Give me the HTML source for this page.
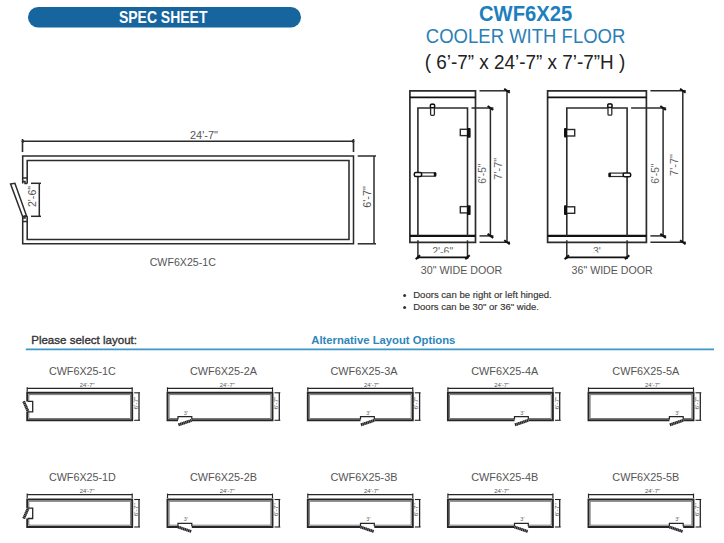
<!DOCTYPE html>
<html><head><meta charset="utf-8"><style>
html,body{margin:0;padding:0;background:#fff;width:724px;height:543px;overflow:hidden;position:relative}
svg text{font-family:"Liberation Sans", sans-serif}
</style></head><body>
<svg width="724" height="543" viewBox="0 0 724 543" style="position:absolute;left:0;top:0">
<rect x="28" y="7" width="273" height="20.5" rx="10.25" fill="#16659f"/>
<text x="163.2" y="22.9" font-size="16.2" fill="#ffffff" text-anchor="middle" font-weight="bold" textLength="88.5" lengthAdjust="spacingAndGlyphs" >SPEC SHEET</text>
<text x="525.6" y="20.8" font-size="22.4" fill="#1e7fbd" text-anchor="middle" font-weight="bold" textLength="93.2" lengthAdjust="spacingAndGlyphs" >CWF6X25</text>
<text x="525.6" y="42.9" font-size="20.1" fill="#2a7fb7" text-anchor="middle" font-weight="normal" textLength="199.5" lengthAdjust="spacingAndGlyphs" >COOLER WITH FLOOR</text>
<text x="525" y="69.1" font-size="19.8" fill="#222" text-anchor="middle" font-weight="normal" textLength="200.5" lengthAdjust="spacingAndGlyphs" >( 6’-7” x 24’-7” x 7’-7”H )</text>
<line x1="22.5" y1="141.3" x2="353.5" y2="141.3" stroke="#2b2b2b" stroke-width="1.6"/>
<line x1="22.5" y1="139" x2="22.5" y2="152" stroke="#2b2b2b" stroke-width="1.6"/>
<line x1="353.5" y1="139" x2="353.5" y2="152" stroke="#2b2b2b" stroke-width="1.6"/>
<circle cx="23" cy="141.3" r="1.4" fill="#2b2b2b"/><circle cx="353" cy="141.3" r="1.4" fill="#2b2b2b"/>
<text x="204" y="138.7" font-size="10.5" fill="#555" text-anchor="middle" font-weight="normal" textLength="28" lengthAdjust="spacingAndGlyphs" >24'-7"</text>
<path d="M22.7,183.5 V156 H353.5 V243.8 H22.7 V216.3" stroke="#2b2b2b" stroke-width="1.55" fill="none" />
<path d="M27.2,183.5 V160.5 H349 V239.4 H27.2 V216.3" stroke="#2b2b2b" stroke-width="1.55" fill="none" />
<path d="M22.7,178.1 H27.2 M22.7,181.5 H25 V183.5 H27.2" stroke="#2b2b2b" stroke-width="1.5" fill="none" />
<path d="M22.7,221.5 H27.2 M22.7,218 H25 V216.3 H27.2" stroke="#2b2b2b" stroke-width="1.5" fill="none" />
<path d="M10.6,184 L14.9,183.3 L26.5,215.8 L22.6,216.5 Z" stroke="#2b2b2b" stroke-width="1.5" fill="none" />
<line x1="31" y1="183.3" x2="41" y2="183.3" stroke="#2b2b2b" stroke-width="1.5"/>
<line x1="31" y1="216.3" x2="41" y2="216.3" stroke="#2b2b2b" stroke-width="1.5"/>
<line x1="39.3" y1="183.3" x2="39.3" y2="216.3" stroke="#2b2b2b" stroke-width="1.5"/>
<text x="0" y="0" font-size="10.5" fill="#555" text-anchor="middle" font-weight="normal" textLength="21" lengthAdjust="spacingAndGlyphs" transform="translate(32.6,196.5) rotate(-90)" dy="3.7">2'-6"</text>
<line x1="357.7" y1="156" x2="376" y2="156" stroke="#2b2b2b" stroke-width="1.5"/>
<line x1="357.7" y1="243.8" x2="376" y2="243.8" stroke="#2b2b2b" stroke-width="1.5"/>
<line x1="374" y1="156" x2="374" y2="243.8" stroke="#2b2b2b" stroke-width="1.5"/>
<text x="0" y="0" font-size="10.5" fill="#555" text-anchor="middle" font-weight="normal" textLength="21.7" lengthAdjust="spacingAndGlyphs" transform="translate(367,197) rotate(-90)" dy="3.7">6'-7"</text>
<text x="182.8" y="266.2" font-size="10.7" fill="#555" text-anchor="middle" font-weight="normal" textLength="66.2" lengthAdjust="spacingAndGlyphs" >CWF6X25-1C</text>
<path d="M409.9,242.3 V90.8 H475.5 V242.3 Z" stroke="#2b2b2b" stroke-width="1.7" fill="none" />
<line x1="409.9" y1="97.3" x2="475.5" y2="97.3" stroke="#111" stroke-width="1.7"/>
<line x1="409.9" y1="235.9" x2="475.5" y2="235.9" stroke="#111" stroke-width="2.4"/>
<path d="M417.9,235.9 V108 H467.5 V235.9" stroke="#2b2b2b" stroke-width="1.6" fill="none" />
<line x1="471.5" y1="108" x2="493.4" y2="108" stroke="#2b2b2b" stroke-width="1.5"/>
<line x1="479.5" y1="235.9" x2="493.4" y2="235.9" stroke="#2b2b2b" stroke-width="1.5"/>
<line x1="479.5" y1="90.8" x2="510" y2="90.8" stroke="#2b2b2b" stroke-width="1.5"/>
<line x1="479.5" y1="242.3" x2="510" y2="242.3" stroke="#2b2b2b" stroke-width="1.5"/>
<line x1="490.4" y1="108" x2="490.4" y2="235.9" stroke="#2b2b2b" stroke-width="1.5"/>
<line x1="507" y1="90.8" x2="507" y2="242.3" stroke="#2b2b2b" stroke-width="1.5"/>
<path d="M487.59999999999997,106 L493.2,110" stroke="#111" stroke-width="2" fill="none" />
<path d="M487.59999999999997,233.9 L493.2,237.9" stroke="#111" stroke-width="2" fill="none" />
<path d="M504.2,88.8 L509.8,92.8" stroke="#111" stroke-width="2" fill="none" />
<path d="M504.2,240.3 L509.8,244.3" stroke="#111" stroke-width="2" fill="none" />
<line x1="417.9" y1="240.3" x2="417.9" y2="259" stroke="#2b2b2b" stroke-width="1.5"/>
<line x1="467.5" y1="240.3" x2="467.5" y2="259" stroke="#2b2b2b" stroke-width="1.5"/>
<line x1="416.9" y1="257.3" x2="468.5" y2="257.3" stroke="#111" stroke-width="1.7"/>
<path d="M415.7,259.3 L420.09999999999997,255.3" stroke="#111" stroke-width="2" fill="none" />
<path d="M465.3,259.3 L469.7,255.3" stroke="#111" stroke-width="2" fill="none" />
<clipPath id="cp417"><rect x="417.9" y="240" width="49.60000000000002" height="12.8"/></clipPath>
<text x="442.7" y="254.8" font-size="10.5" fill="#666" text-anchor="middle" font-weight="normal" clip-path="url(#cp417)">2'-6"</text>
<text x="0" y="0" font-size="11" fill="#666" text-anchor="middle" font-weight="normal" textLength="20.2" lengthAdjust="spacingAndGlyphs" transform="translate(482.2,173.7) rotate(-90)" dy="3.9">6'-5"</text>
<text x="0" y="0" font-size="11" fill="#666" text-anchor="middle" font-weight="normal" textLength="21.8" lengthAdjust="spacingAndGlyphs" transform="translate(498.5,168.8) rotate(-90)" dy="3.9">7'-7"</text>
<text x="461.55" y="274" font-size="10" fill="#555" text-anchor="middle" font-weight="normal" textLength="81.5" lengthAdjust="spacingAndGlyphs" >30" WIDE DOOR</text>
<rect x="460.3" y="129.3" width="7.2" height="6.3" fill="#fff" stroke="#2b2b2b" stroke-width="1.4"/>
<rect x="467" y="128" width="3.6" height="9.8" rx="1" fill="#111"/>
<rect x="460.3" y="206.60000000000002" width="7.2" height="6.3" fill="#fff" stroke="#2b2b2b" stroke-width="1.4"/>
<rect x="467" y="205.3" width="3.6" height="9.8" rx="1" fill="#111"/>
<path d="M547.6,242.3 V90.8 H646.4 V242.3 Z" stroke="#2b2b2b" stroke-width="1.7" fill="none" />
<line x1="547.6" y1="97.3" x2="646.4" y2="97.3" stroke="#111" stroke-width="1.7"/>
<line x1="547.6" y1="235.9" x2="646.4" y2="235.9" stroke="#111" stroke-width="2.4"/>
<path d="M566.8,235.9 V108 H627.1 V235.9" stroke="#2b2b2b" stroke-width="1.6" fill="none" />
<line x1="631.1" y1="108" x2="666.1" y2="108" stroke="#2b2b2b" stroke-width="1.5"/>
<line x1="650.4" y1="235.9" x2="666.1" y2="235.9" stroke="#2b2b2b" stroke-width="1.5"/>
<line x1="650.4" y1="90.8" x2="685.8" y2="90.8" stroke="#2b2b2b" stroke-width="1.5"/>
<line x1="650.4" y1="242.3" x2="685.8" y2="242.3" stroke="#2b2b2b" stroke-width="1.5"/>
<line x1="663.1" y1="108" x2="663.1" y2="235.9" stroke="#2b2b2b" stroke-width="1.5"/>
<line x1="682.8" y1="90.8" x2="682.8" y2="242.3" stroke="#2b2b2b" stroke-width="1.5"/>
<path d="M660.3000000000001,106 L665.9,110" stroke="#111" stroke-width="2" fill="none" />
<path d="M660.3000000000001,233.9 L665.9,237.9" stroke="#111" stroke-width="2" fill="none" />
<path d="M680.0,88.8 L685.5999999999999,92.8" stroke="#111" stroke-width="2" fill="none" />
<path d="M680.0,240.3 L685.5999999999999,244.3" stroke="#111" stroke-width="2" fill="none" />
<line x1="566.8" y1="240.3" x2="566.8" y2="259" stroke="#2b2b2b" stroke-width="1.5"/>
<line x1="627.1" y1="240.3" x2="627.1" y2="259" stroke="#2b2b2b" stroke-width="1.5"/>
<line x1="565.8" y1="257.3" x2="628.1" y2="257.3" stroke="#111" stroke-width="1.7"/>
<path d="M564.5999999999999,259.3 L569.0,255.3" stroke="#111" stroke-width="2" fill="none" />
<path d="M624.9,259.3 L629.3000000000001,255.3" stroke="#111" stroke-width="2" fill="none" />
<clipPath id="cp566"><rect x="566.8" y="240" width="60.30000000000007" height="12.8"/></clipPath>
<text x="596.95" y="254.8" font-size="10.5" fill="#666" text-anchor="middle" font-weight="normal" clip-path="url(#cp566)">3'</text>
<text x="0" y="0" font-size="11" fill="#666" text-anchor="middle" font-weight="normal" textLength="20.2" lengthAdjust="spacingAndGlyphs" transform="translate(654.9,173.7) rotate(-90)" dy="3.9">6'-5"</text>
<text x="0" y="0" font-size="11" fill="#666" text-anchor="middle" font-weight="normal" textLength="21.8" lengthAdjust="spacingAndGlyphs" transform="translate(674.3,165) rotate(-90)" dy="3.9">7'-7"</text>
<text x="612.1500000000001" y="274" font-size="10" fill="#555" text-anchor="middle" font-weight="normal" textLength="81.10000000000002" lengthAdjust="spacingAndGlyphs" >36" WIDE DOOR</text>
<rect x="566.7" y="129.5" width="8" height="6.5" fill="#fff" stroke="#2b2b2b" stroke-width="1.4"/>
<rect x="564" y="128" width="3" height="9.6" rx="1" fill="#111"/>
<rect x="566.7" y="206.8" width="8" height="6.5" fill="#fff" stroke="#2b2b2b" stroke-width="1.4"/>
<rect x="564" y="205.3" width="3" height="9.6" rx="1" fill="#111"/>
<rect x="430.6" y="104.3" width="3.8" height="11" rx="1" fill="#fff" stroke="#2b2b2b" stroke-width="1.3"/>
<rect x="430.4" y="104.2" width="4.2" height="3.6" rx="1" fill="#fff" stroke="#111" stroke-width="1.5"/>
<rect x="608" y="104.2" width="3.8" height="11" rx="1" fill="#fff" stroke="#2b2b2b" stroke-width="1.3"/>
<rect x="607.8" y="104" width="4.2" height="3.6" rx="1" fill="#fff" stroke="#111" stroke-width="1.5"/>
<rect x="421.5" y="172.8" width="13.5" height="3.4" fill="#fff" stroke="#2b2b2b" stroke-width="1.2"/>
<rect x="414.3" y="172.4" width="7.3" height="4" rx="1.5" fill="#fff" stroke="#111" stroke-width="1.5"/>
<rect x="433.8" y="172.2" width="2.6" height="4.4" rx="1" fill="#111"/>
<rect x="610" y="173.1" width="13.5" height="3.4" fill="#fff" stroke="#2b2b2b" stroke-width="1.2"/>
<rect x="623.2" y="172.9" width="7.5" height="3.8" rx="1.5" fill="#fff" stroke="#111" stroke-width="1.5"/>
<rect x="608.3" y="172.8" width="2.6" height="4.4" rx="1" fill="#111"/>
<circle cx="404.6" cy="295.6" r="1.5" fill="#333"/>
<text x="413.2" y="298.2" font-size="9.5" fill="#333" text-anchor="start" font-weight="normal" textLength="138.6" lengthAdjust="spacingAndGlyphs" stroke="#333" stroke-width="0.15">Doors can be right or left hinged.</text>
<circle cx="404.6" cy="307.4" r="1.5" fill="#333"/>
<text x="413.2" y="310" font-size="9.5" fill="#333" text-anchor="start" font-weight="normal" textLength="125.8" lengthAdjust="spacingAndGlyphs" stroke="#333" stroke-width="0.15">Doors can be 30" or 36" wide.</text>
<text x="31.2" y="344" font-size="11.7" fill="#333" text-anchor="start" font-weight="normal" textLength="105.8" lengthAdjust="spacingAndGlyphs" stroke="#333" stroke-width="0.35">Please select layout:</text>
<text x="311.3" y="343.8" font-size="11.7" fill="#2e86bb" text-anchor="start" font-weight="bold" textLength="144" lengthAdjust="spacingAndGlyphs" >Alternative Layout Options</text>
<line x1="25.8" y1="349.3" x2="714" y2="349.3" stroke="#3f97c9" stroke-width="1.8"/>
<text x="82.4" y="374.9" font-size="10.3" fill="#555" text-anchor="middle" font-weight="normal" textLength="67" lengthAdjust="spacingAndGlyphs" >CWF6X25-1C</text>
<line x1="27.2" y1="388.3" x2="132.2" y2="388.3" stroke="#262626" stroke-width="1.3"/>
<line x1="27.2" y1="387.3" x2="27.2" y2="391.8" stroke="#262626" stroke-width="1.2"/>
<line x1="132.2" y1="387.3" x2="132.2" y2="391.8" stroke="#262626" stroke-width="1.2"/>
<text x="87.2" y="387.0" font-size="6" fill="#555" text-anchor="middle" font-weight="normal" textLength="15" lengthAdjust="spacingAndGlyphs" >24'-7"</text>
<line x1="134.2" y1="392.8" x2="140.0" y2="392.8" stroke="#262626" stroke-width="1.1"/>
<line x1="134.2" y1="420.3" x2="140.0" y2="420.3" stroke="#262626" stroke-width="1.1"/>
<line x1="139.0" y1="392.8" x2="139.0" y2="420.3" stroke="#262626" stroke-width="1.3"/>
<text x="0" y="0" font-size="6" fill="#555" text-anchor="middle" font-weight="normal" textLength="13" lengthAdjust="spacingAndGlyphs" transform="translate(135.79999999999998,403.1) rotate(-90)" dy="2">6'-7"</text>
<path d="M27.2,401.40000000000003 V392.8 H132.2 V420.3 H27.2 V411.8" stroke="#262626" stroke-width="1.9" fill="none" />
<path d="M28.8,401.40000000000003 V394.6 H130.6 V418.5 H28.8 V411.8" stroke="#555" stroke-width="0.8" fill="none" />
<path d="M27.7,401.40000000000003 H32.7 V411.8 H27.7" stroke="#262626" stroke-width="1.3" fill="none" />
<path d="M23.7,401.40000000000003 L28.2,411.8" stroke="#8a8a8a" stroke-width="2.8" fill="none"/>
<path d="M23.7,401.40000000000003 L28.2,411.8" stroke="#1e1e1e" stroke-width="2.8" fill="none" stroke-dasharray="1.1 0.7"/>
<text x="223.5" y="374.9" font-size="10.3" fill="#555" text-anchor="middle" font-weight="normal" textLength="67" lengthAdjust="spacingAndGlyphs" >CWF6X25-2A</text>
<line x1="167.5" y1="388.3" x2="272.5" y2="388.3" stroke="#262626" stroke-width="1.3"/>
<line x1="167.5" y1="387.3" x2="167.5" y2="391.8" stroke="#262626" stroke-width="1.2"/>
<line x1="272.5" y1="387.3" x2="272.5" y2="391.8" stroke="#262626" stroke-width="1.2"/>
<text x="227.3" y="387.0" font-size="6" fill="#555" text-anchor="middle" font-weight="normal" textLength="15" lengthAdjust="spacingAndGlyphs" >24'-7"</text>
<line x1="274.5" y1="392.8" x2="280.3" y2="392.8" stroke="#262626" stroke-width="1.1"/>
<line x1="274.5" y1="420.3" x2="280.3" y2="420.3" stroke="#262626" stroke-width="1.1"/>
<line x1="279.3" y1="392.8" x2="279.3" y2="420.3" stroke="#262626" stroke-width="1.3"/>
<text x="0" y="0" font-size="6" fill="#555" text-anchor="middle" font-weight="normal" textLength="13" lengthAdjust="spacingAndGlyphs" transform="translate(276.1,403.1) rotate(-90)" dy="2">6'-7"</text>
<path d="M178.0,420.3 H167.5 V392.8 H272.5 V420.3 H191.8" stroke="#262626" stroke-width="1.9" fill="none" />
<path d="M178.0,418.5 H169.1 V394.6 H270.9 V418.5 H191.8" stroke="#555" stroke-width="0.8" fill="none" />
<path d="M178.0,419.5 V416.7 H191.8 V419.5" stroke="#262626" stroke-width="1.2" fill="none" />
<text x="185.9" y="414.7" font-size="5.5" fill="#666" text-anchor="middle" font-weight="normal" >3'</text>
<path d="M178.5,424.8 L191.8,420.3" stroke="#8a8a8a" stroke-width="2.8" fill="none"/>
<path d="M178.5,424.8 L191.8,420.3" stroke="#1e1e1e" stroke-width="2.8" fill="none" stroke-dasharray="1.1 0.7"/>
<text x="364.0" y="374.9" font-size="10.3" fill="#555" text-anchor="middle" font-weight="normal" textLength="67" lengthAdjust="spacingAndGlyphs" >CWF6X25-3A</text>
<line x1="307.8" y1="388.3" x2="412.8" y2="388.3" stroke="#262626" stroke-width="1.3"/>
<line x1="307.8" y1="387.3" x2="307.8" y2="391.8" stroke="#262626" stroke-width="1.2"/>
<line x1="412.8" y1="387.3" x2="412.8" y2="391.8" stroke="#262626" stroke-width="1.2"/>
<text x="371.5" y="387.0" font-size="6" fill="#555" text-anchor="middle" font-weight="normal" textLength="15" lengthAdjust="spacingAndGlyphs" >24'-7"</text>
<line x1="414.8" y1="392.8" x2="420.6" y2="392.8" stroke="#262626" stroke-width="1.1"/>
<line x1="414.8" y1="420.3" x2="420.6" y2="420.3" stroke="#262626" stroke-width="1.1"/>
<line x1="419.6" y1="392.8" x2="419.6" y2="420.3" stroke="#262626" stroke-width="1.3"/>
<text x="0" y="0" font-size="6" fill="#555" text-anchor="middle" font-weight="normal" textLength="13" lengthAdjust="spacingAndGlyphs" transform="translate(416.4,403.1) rotate(-90)" dy="2">6'-7"</text>
<path d="M360.5,420.3 H307.8 V392.8 H412.8 V420.3 H374.3" stroke="#262626" stroke-width="1.9" fill="none" />
<path d="M360.5,418.5 H309.40000000000003 V394.6 H411.2 V418.5 H374.3" stroke="#555" stroke-width="0.8" fill="none" />
<path d="M360.5,419.5 V416.7 H374.3 V419.5" stroke="#262626" stroke-width="1.2" fill="none" />
<text x="368.4" y="414.7" font-size="5.5" fill="#666" text-anchor="middle" font-weight="normal" >3'</text>
<path d="M361.0,424.8 L374.3,420.3" stroke="#8a8a8a" stroke-width="2.8" fill="none"/>
<path d="M361.0,424.8 L374.3,420.3" stroke="#1e1e1e" stroke-width="2.8" fill="none" stroke-dasharray="1.1 0.7"/>
<text x="504.7" y="374.9" font-size="10.3" fill="#555" text-anchor="middle" font-weight="normal" textLength="67" lengthAdjust="spacingAndGlyphs" >CWF6X25-4A</text>
<line x1="447.9" y1="388.3" x2="552.9" y2="388.3" stroke="#262626" stroke-width="1.3"/>
<line x1="447.9" y1="387.3" x2="447.9" y2="391.8" stroke="#262626" stroke-width="1.2"/>
<line x1="552.9" y1="387.3" x2="552.9" y2="391.8" stroke="#262626" stroke-width="1.2"/>
<text x="501.7" y="387.0" font-size="6" fill="#555" text-anchor="middle" font-weight="normal" textLength="15" lengthAdjust="spacingAndGlyphs" >24'-7"</text>
<line x1="554.9" y1="392.8" x2="560.6999999999999" y2="392.8" stroke="#262626" stroke-width="1.1"/>
<line x1="554.9" y1="420.3" x2="560.6999999999999" y2="420.3" stroke="#262626" stroke-width="1.1"/>
<line x1="559.6999999999999" y1="392.8" x2="559.6999999999999" y2="420.3" stroke="#262626" stroke-width="1.3"/>
<text x="0" y="0" font-size="6" fill="#555" text-anchor="middle" font-weight="normal" textLength="13" lengthAdjust="spacingAndGlyphs" transform="translate(556.5,403.1) rotate(-90)" dy="2">6'-7"</text>
<path d="M514.5,420.3 H447.9 V392.8 H552.9 V420.3 H528.3" stroke="#262626" stroke-width="1.9" fill="none" />
<path d="M514.5,418.5 H449.5 V394.6 H551.3 V418.5 H528.3" stroke="#555" stroke-width="0.8" fill="none" />
<path d="M514.5,419.5 V416.7 H528.3 V419.5" stroke="#262626" stroke-width="1.2" fill="none" />
<text x="522.4" y="414.7" font-size="5.5" fill="#666" text-anchor="middle" font-weight="normal" >3'</text>
<path d="M515.0,424.8 L528.3,420.3" stroke="#8a8a8a" stroke-width="2.8" fill="none"/>
<path d="M515.0,424.8 L528.3,420.3" stroke="#1e1e1e" stroke-width="2.8" fill="none" stroke-dasharray="1.1 0.7"/>
<text x="645.8" y="374.9" font-size="10.3" fill="#555" text-anchor="middle" font-weight="normal" textLength="67" lengthAdjust="spacingAndGlyphs" >CWF6X25-5A</text>
<line x1="588.5" y1="388.3" x2="693.5" y2="388.3" stroke="#262626" stroke-width="1.3"/>
<line x1="588.5" y1="387.3" x2="588.5" y2="391.8" stroke="#262626" stroke-width="1.2"/>
<line x1="693.5" y1="387.3" x2="693.5" y2="391.8" stroke="#262626" stroke-width="1.2"/>
<text x="652.5" y="387.0" font-size="6" fill="#555" text-anchor="middle" font-weight="normal" textLength="15" lengthAdjust="spacingAndGlyphs" >24'-7"</text>
<line x1="695.5" y1="392.8" x2="701.3" y2="392.8" stroke="#262626" stroke-width="1.1"/>
<line x1="695.5" y1="420.3" x2="701.3" y2="420.3" stroke="#262626" stroke-width="1.1"/>
<line x1="700.3" y1="392.8" x2="700.3" y2="420.3" stroke="#262626" stroke-width="1.3"/>
<text x="0" y="0" font-size="6" fill="#555" text-anchor="middle" font-weight="normal" textLength="13" lengthAdjust="spacingAndGlyphs" transform="translate(697.1,403.1) rotate(-90)" dy="2">6'-7"</text>
<path d="M669.4,420.3 H588.5 V392.8 H693.5 V420.3 H683.1999999999999" stroke="#262626" stroke-width="1.9" fill="none" />
<path d="M669.4,418.5 H590.1 V394.6 H691.9 V418.5 H683.1999999999999" stroke="#555" stroke-width="0.8" fill="none" />
<path d="M669.4,419.5 V416.7 H683.1999999999999 V419.5" stroke="#262626" stroke-width="1.2" fill="none" />
<text x="677.3" y="414.7" font-size="5.5" fill="#666" text-anchor="middle" font-weight="normal" >3'</text>
<path d="M669.9,424.8 L683.1999999999999,420.3" stroke="#8a8a8a" stroke-width="2.8" fill="none"/>
<path d="M669.9,424.8 L683.1999999999999,420.3" stroke="#1e1e1e" stroke-width="2.8" fill="none" stroke-dasharray="1.1 0.7"/>
<text x="82.4" y="481.0" font-size="10.3" fill="#555" text-anchor="middle" font-weight="normal" textLength="67" lengthAdjust="spacingAndGlyphs" >CWF6X25-1D</text>
<line x1="27.2" y1="494.6" x2="132.2" y2="494.6" stroke="#262626" stroke-width="1.3"/>
<line x1="27.2" y1="493.6" x2="27.2" y2="498.1" stroke="#262626" stroke-width="1.2"/>
<line x1="132.2" y1="493.6" x2="132.2" y2="498.1" stroke="#262626" stroke-width="1.2"/>
<text x="87.2" y="493.3" font-size="6" fill="#555" text-anchor="middle" font-weight="normal" textLength="15" lengthAdjust="spacingAndGlyphs" >24'-7"</text>
<line x1="134.2" y1="499.5" x2="140.0" y2="499.5" stroke="#262626" stroke-width="1.1"/>
<line x1="134.2" y1="527.0" x2="140.0" y2="527.0" stroke="#262626" stroke-width="1.1"/>
<line x1="139.0" y1="499.5" x2="139.0" y2="527.0" stroke="#262626" stroke-width="1.3"/>
<text x="0" y="0" font-size="6" fill="#555" text-anchor="middle" font-weight="normal" textLength="13" lengthAdjust="spacingAndGlyphs" transform="translate(135.79999999999998,509.8) rotate(-90)" dy="2">6'-7"</text>
<path d="M27.2,508.1 V499.5 H132.2 V527.0 H27.2 V518.5" stroke="#262626" stroke-width="1.9" fill="none" />
<path d="M28.8,508.1 V501.3 H130.6 V525.2 H28.8 V518.5" stroke="#555" stroke-width="0.8" fill="none" />
<path d="M27.7,508.1 H32.7 V518.5 H27.7" stroke="#262626" stroke-width="1.3" fill="none" />
<path d="M23.7,518.5 L28.2,508.1" stroke="#8a8a8a" stroke-width="2.8" fill="none"/>
<path d="M23.7,518.5 L28.2,508.1" stroke="#1e1e1e" stroke-width="2.8" fill="none" stroke-dasharray="1.1 0.7"/>
<text x="223.5" y="481.0" font-size="10.3" fill="#555" text-anchor="middle" font-weight="normal" textLength="67" lengthAdjust="spacingAndGlyphs" >CWF6X25-2B</text>
<line x1="167.5" y1="494.6" x2="272.5" y2="494.6" stroke="#262626" stroke-width="1.3"/>
<line x1="167.5" y1="493.6" x2="167.5" y2="498.1" stroke="#262626" stroke-width="1.2"/>
<line x1="272.5" y1="493.6" x2="272.5" y2="498.1" stroke="#262626" stroke-width="1.2"/>
<text x="227.3" y="493.3" font-size="6" fill="#555" text-anchor="middle" font-weight="normal" textLength="15" lengthAdjust="spacingAndGlyphs" >24'-7"</text>
<line x1="274.5" y1="499.5" x2="280.3" y2="499.5" stroke="#262626" stroke-width="1.1"/>
<line x1="274.5" y1="527.0" x2="280.3" y2="527.0" stroke="#262626" stroke-width="1.1"/>
<line x1="279.3" y1="499.5" x2="279.3" y2="527.0" stroke="#262626" stroke-width="1.3"/>
<text x="0" y="0" font-size="6" fill="#555" text-anchor="middle" font-weight="normal" textLength="13" lengthAdjust="spacingAndGlyphs" transform="translate(276.1,509.8) rotate(-90)" dy="2">6'-7"</text>
<path d="M178.0,527.0 H167.5 V499.5 H272.5 V527.0 H191.8" stroke="#262626" stroke-width="1.9" fill="none" />
<path d="M178.0,525.2 H169.1 V501.3 H270.9 V525.2 H191.8" stroke="#555" stroke-width="0.8" fill="none" />
<path d="M178.0,526.2 V523.4 H191.8 V526.2" stroke="#262626" stroke-width="1.2" fill="none" />
<text x="185.9" y="521.4" font-size="5.5" fill="#666" text-anchor="middle" font-weight="normal" >3'</text>
<path d="M178.0,527.0 L191.3,531.5" stroke="#8a8a8a" stroke-width="2.8" fill="none"/>
<path d="M178.0,527.0 L191.3,531.5" stroke="#1e1e1e" stroke-width="2.8" fill="none" stroke-dasharray="1.1 0.7"/>
<text x="364.0" y="481.0" font-size="10.3" fill="#555" text-anchor="middle" font-weight="normal" textLength="67" lengthAdjust="spacingAndGlyphs" >CWF6X25-3B</text>
<line x1="307.8" y1="494.6" x2="412.8" y2="494.6" stroke="#262626" stroke-width="1.3"/>
<line x1="307.8" y1="493.6" x2="307.8" y2="498.1" stroke="#262626" stroke-width="1.2"/>
<line x1="412.8" y1="493.6" x2="412.8" y2="498.1" stroke="#262626" stroke-width="1.2"/>
<text x="371.5" y="493.3" font-size="6" fill="#555" text-anchor="middle" font-weight="normal" textLength="15" lengthAdjust="spacingAndGlyphs" >24'-7"</text>
<line x1="414.8" y1="499.5" x2="420.6" y2="499.5" stroke="#262626" stroke-width="1.1"/>
<line x1="414.8" y1="527.0" x2="420.6" y2="527.0" stroke="#262626" stroke-width="1.1"/>
<line x1="419.6" y1="499.5" x2="419.6" y2="527.0" stroke="#262626" stroke-width="1.3"/>
<text x="0" y="0" font-size="6" fill="#555" text-anchor="middle" font-weight="normal" textLength="13" lengthAdjust="spacingAndGlyphs" transform="translate(416.4,509.8) rotate(-90)" dy="2">6'-7"</text>
<path d="M360.5,527.0 H307.8 V499.5 H412.8 V527.0 H374.3" stroke="#262626" stroke-width="1.9" fill="none" />
<path d="M360.5,525.2 H309.40000000000003 V501.3 H411.2 V525.2 H374.3" stroke="#555" stroke-width="0.8" fill="none" />
<path d="M360.5,526.2 V523.4 H374.3 V526.2" stroke="#262626" stroke-width="1.2" fill="none" />
<text x="368.4" y="521.4" font-size="5.5" fill="#666" text-anchor="middle" font-weight="normal" >3'</text>
<path d="M360.5,527.0 L373.8,531.5" stroke="#8a8a8a" stroke-width="2.8" fill="none"/>
<path d="M360.5,527.0 L373.8,531.5" stroke="#1e1e1e" stroke-width="2.8" fill="none" stroke-dasharray="1.1 0.7"/>
<text x="504.7" y="481.0" font-size="10.3" fill="#555" text-anchor="middle" font-weight="normal" textLength="67" lengthAdjust="spacingAndGlyphs" >CWF6X25-4B</text>
<line x1="447.9" y1="494.6" x2="552.9" y2="494.6" stroke="#262626" stroke-width="1.3"/>
<line x1="447.9" y1="493.6" x2="447.9" y2="498.1" stroke="#262626" stroke-width="1.2"/>
<line x1="552.9" y1="493.6" x2="552.9" y2="498.1" stroke="#262626" stroke-width="1.2"/>
<text x="501.7" y="493.3" font-size="6" fill="#555" text-anchor="middle" font-weight="normal" textLength="15" lengthAdjust="spacingAndGlyphs" >24'-7"</text>
<line x1="554.9" y1="499.5" x2="560.6999999999999" y2="499.5" stroke="#262626" stroke-width="1.1"/>
<line x1="554.9" y1="527.0" x2="560.6999999999999" y2="527.0" stroke="#262626" stroke-width="1.1"/>
<line x1="559.6999999999999" y1="499.5" x2="559.6999999999999" y2="527.0" stroke="#262626" stroke-width="1.3"/>
<text x="0" y="0" font-size="6" fill="#555" text-anchor="middle" font-weight="normal" textLength="13" lengthAdjust="spacingAndGlyphs" transform="translate(556.5,509.8) rotate(-90)" dy="2">6'-7"</text>
<path d="M514.5,527.0 H447.9 V499.5 H552.9 V527.0 H528.3" stroke="#262626" stroke-width="1.9" fill="none" />
<path d="M514.5,525.2 H449.5 V501.3 H551.3 V525.2 H528.3" stroke="#555" stroke-width="0.8" fill="none" />
<path d="M514.5,526.2 V523.4 H528.3 V526.2" stroke="#262626" stroke-width="1.2" fill="none" />
<text x="522.4" y="521.4" font-size="5.5" fill="#666" text-anchor="middle" font-weight="normal" >3'</text>
<path d="M514.5,527.0 L527.8,531.5" stroke="#8a8a8a" stroke-width="2.8" fill="none"/>
<path d="M514.5,527.0 L527.8,531.5" stroke="#1e1e1e" stroke-width="2.8" fill="none" stroke-dasharray="1.1 0.7"/>
<text x="645.8" y="481.0" font-size="10.3" fill="#555" text-anchor="middle" font-weight="normal" textLength="67" lengthAdjust="spacingAndGlyphs" >CWF6X25-5B</text>
<line x1="588.5" y1="494.6" x2="693.5" y2="494.6" stroke="#262626" stroke-width="1.3"/>
<line x1="588.5" y1="493.6" x2="588.5" y2="498.1" stroke="#262626" stroke-width="1.2"/>
<line x1="693.5" y1="493.6" x2="693.5" y2="498.1" stroke="#262626" stroke-width="1.2"/>
<text x="652.5" y="493.3" font-size="6" fill="#555" text-anchor="middle" font-weight="normal" textLength="15" lengthAdjust="spacingAndGlyphs" >24'-7"</text>
<line x1="695.5" y1="499.5" x2="701.3" y2="499.5" stroke="#262626" stroke-width="1.1"/>
<line x1="695.5" y1="527.0" x2="701.3" y2="527.0" stroke="#262626" stroke-width="1.1"/>
<line x1="700.3" y1="499.5" x2="700.3" y2="527.0" stroke="#262626" stroke-width="1.3"/>
<text x="0" y="0" font-size="6" fill="#555" text-anchor="middle" font-weight="normal" textLength="13" lengthAdjust="spacingAndGlyphs" transform="translate(697.1,509.8) rotate(-90)" dy="2">6'-7"</text>
<path d="M669.4,527.0 H588.5 V499.5 H693.5 V527.0 H683.1999999999999" stroke="#262626" stroke-width="1.9" fill="none" />
<path d="M669.4,525.2 H590.1 V501.3 H691.9 V525.2 H683.1999999999999" stroke="#555" stroke-width="0.8" fill="none" />
<path d="M669.4,526.2 V523.4 H683.1999999999999 V526.2" stroke="#262626" stroke-width="1.2" fill="none" />
<text x="677.3" y="521.4" font-size="5.5" fill="#666" text-anchor="middle" font-weight="normal" >3'</text>
<path d="M669.4,527.0 L682.6999999999999,531.5" stroke="#8a8a8a" stroke-width="2.8" fill="none"/>
<path d="M669.4,527.0 L682.6999999999999,531.5" stroke="#1e1e1e" stroke-width="2.8" fill="none" stroke-dasharray="1.1 0.7"/>
</svg>
</body></html>
